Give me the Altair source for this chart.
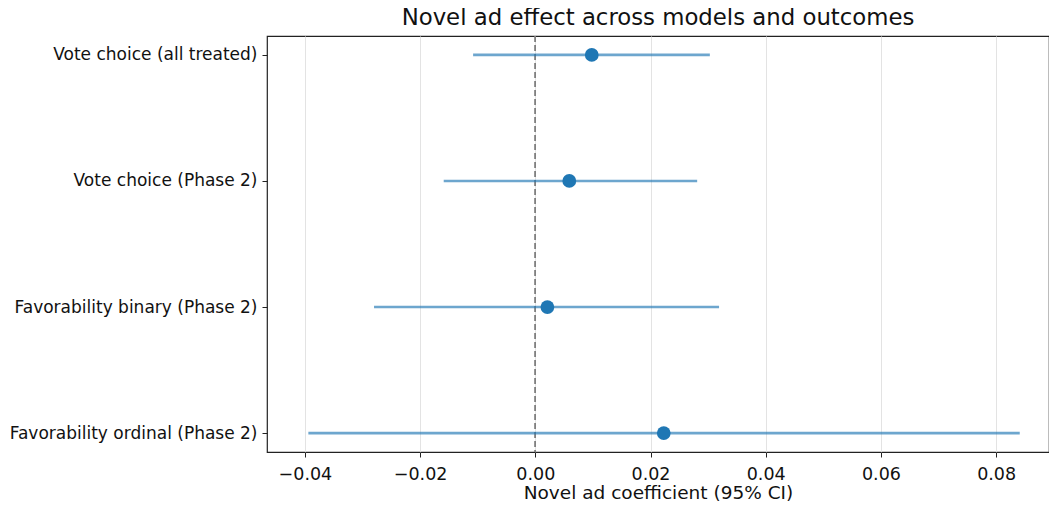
import altair as alt
import pandas as pd

outcomes = [
    "Vote choice (all treated)",
    "Vote choice (Phase 2)",
    "Favorability binary (Phase 2)",
    "Favorability ordinal (Phase 2)",
]
coef = [0.0098, 0.0059, 0.0021, 0.0223]
ci_low = [-0.0108, -0.0159, -0.0280, -0.0394]
ci_high = [0.0303, 0.0281, 0.0319, 0.0841]
x_ticks = [-0.04, -0.02, 0.0, 0.02, 0.04, 0.06, 0.08]

df = pd.DataFrame({"outcome": outcomes, "coef": coef, "lo": ci_low, "hi": ci_high})

FONT = "DejaVu Sans"
xscale = alt.Scale(domain=[-0.04658, 0.08918], nice=False, zero=False)
yscale = alt.Scale(type="point", padding=0.15, domain=outcomes)

xaxis = alt.Axis(
    values=x_ticks, format=".2f", title="Novel ad coefficient (95% CI)",
    grid=True, gridColor="#e3e3e3", gridWidth=1,
    domain=False, tickColor="#222", tickSize=5, tickWidth=1,
    labelFontSize=17.5, labelColor="#111", labelFont=FONT, labelPadding=8,
    titleFontSize=18.5, titleFont=FONT, titleFontWeight="normal", titleColor="#111",
    titlePadding=1,
)
yaxis = alt.Axis(
    title=None, grid=False, domain=False, tickColor="#222", tickSize=5, tickWidth=1,
    labelFontSize=17, labelColor="#111", labelFont=FONT, labelPadding=5,
    labelLimit=400,
)

base = alt.Chart(df)

rule0 = base.mark_rule(color="#808080", strokeDash=[6, 3], strokeWidth=1.3).encode(
    x=alt.datum(0.0, scale=xscale, axis=xaxis)
)

ci = base.mark_rule(color="#1f77b4", opacity=0.65, strokeWidth=2.6).encode(
    x=alt.X("lo:Q", scale=xscale, axis=xaxis),
    x2="hi:Q",
    y=alt.Y("outcome:N", scale=yscale, axis=yaxis, sort=outcomes),
)

pts = base.mark_circle(color="#1f77b4", opacity=1, size=190).encode(
    x=alt.X("coef:Q", scale=xscale, axis=xaxis),
    y=alt.Y("outcome:N", scale=yscale, axis=yaxis, sort=outcomes),
)

chart = (
    alt.layer(rule0, ci, pts)
    .properties(
        width=782,
        height=416,
        title=alt.TitleParams(
            "Novel ad effect across models and outcomes",
            fontSize=22.8, font=FONT, fontWeight="normal", color="#111",
            anchor="middle", offset=6,
        ),
        autosize=alt.AutoSizeParams(type="none"),
        padding={"left": 259, "top": 28, "right": 0, "bottom": 50},
        background="white",
    )
    .configure_view(stroke="#222", strokeWidth=1.2)
)

chart.save("out.html", embed_options={"renderer": "svg", "actions": False})
